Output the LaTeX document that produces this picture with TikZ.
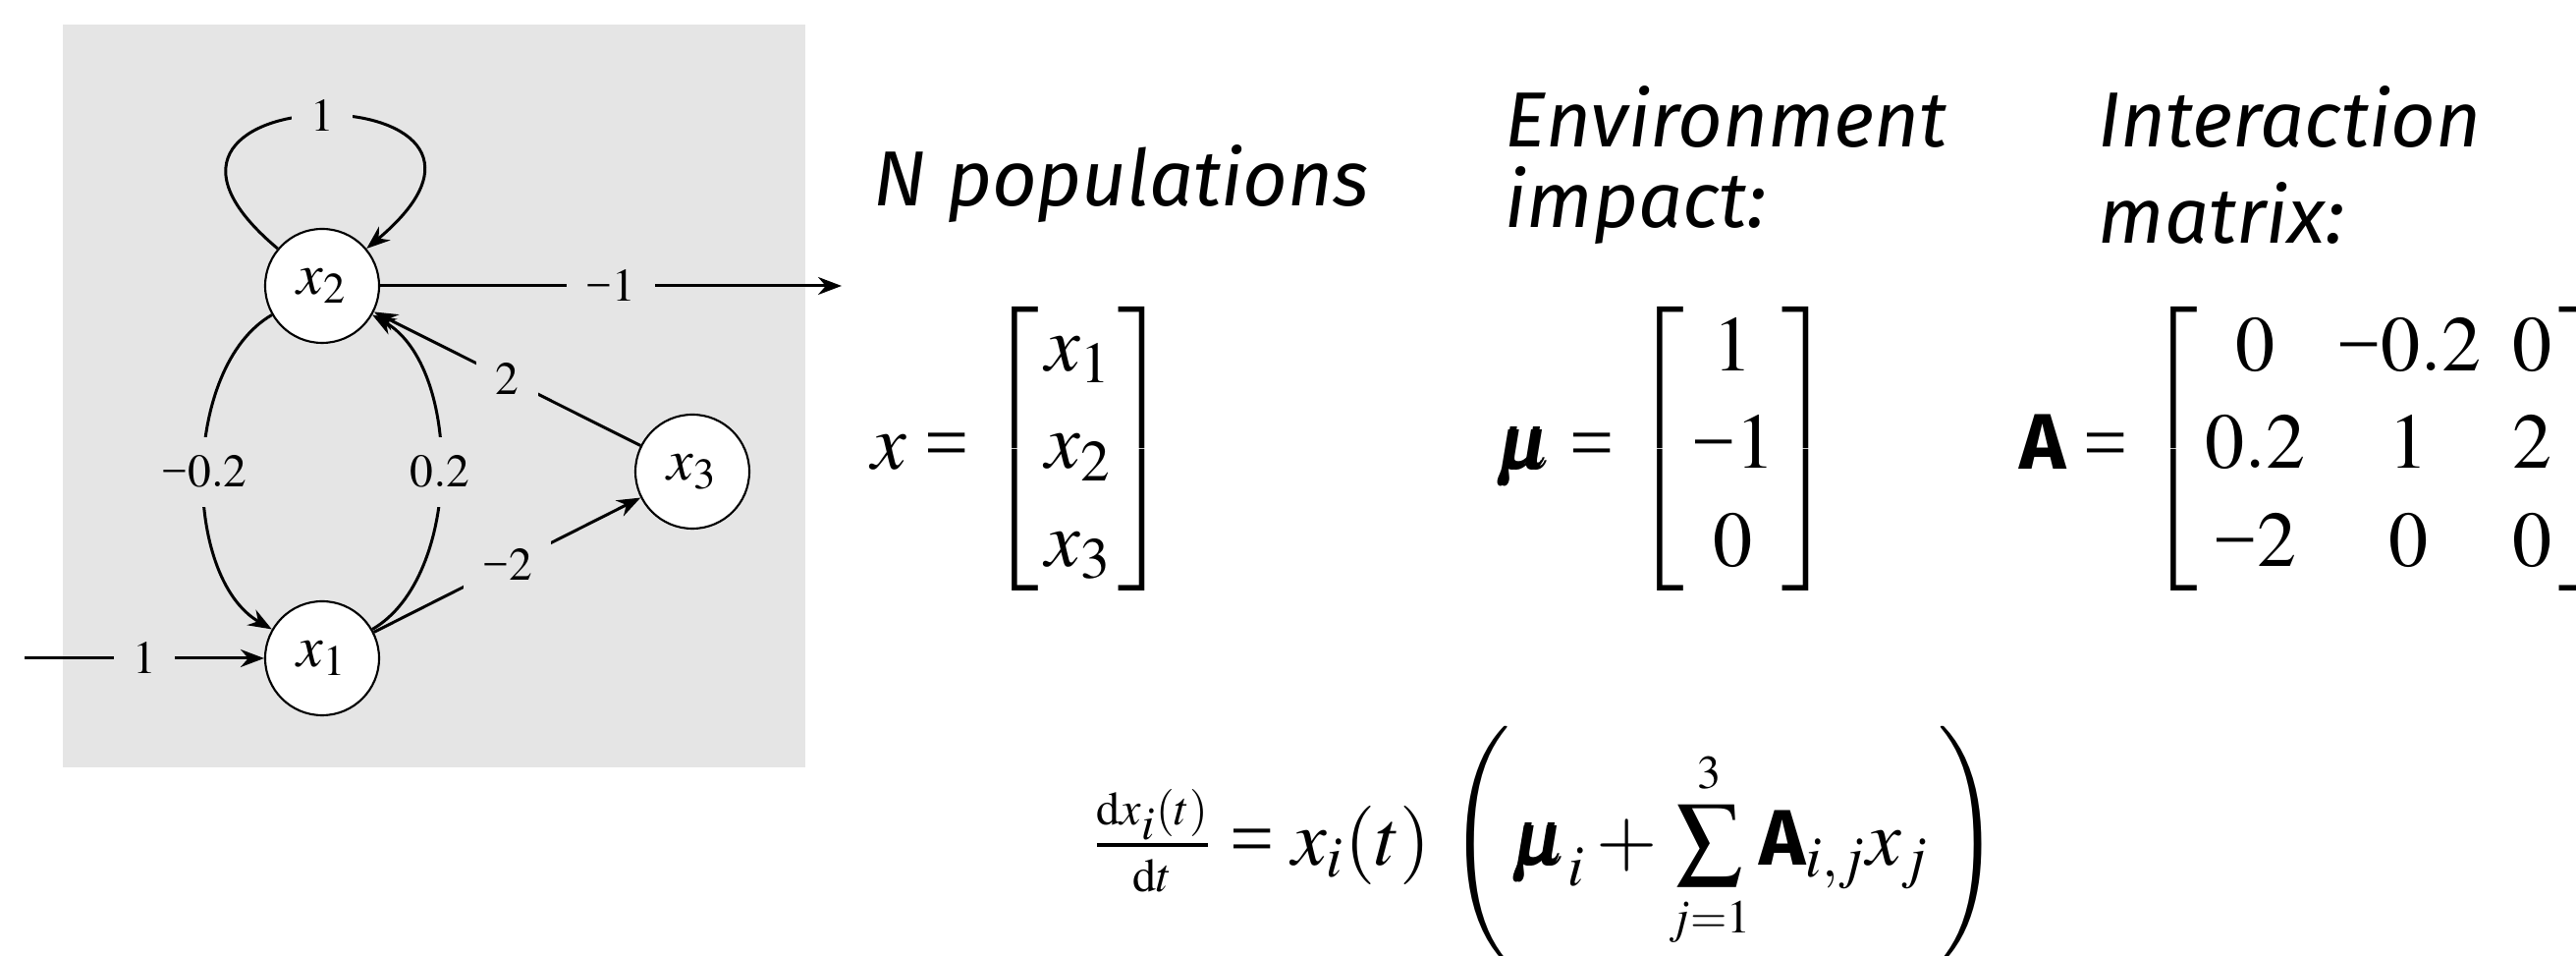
\documentclass[tikz,border=0pt]{standalone}
\usepackage{amsmath}
\usepackage{mathptmx}
\usepackage{bm}
\usepackage[no-math]{fontspec}
\setmainfont{Fira Sans}
\newfontfamily\timesfont{Liberation Serif}
\usetikzlibrary{
    arrows.meta,
    positioning
}

\newcommand{\Amat}{\text{\normalfont\bfseries A}}
\newcommand{\eqsign}{\mathrel{\text{\timesfont =}}}
\newcommand{\mneg}{\text{\timesfont −}}
\newcommand{\bigsum}{\mathop{\vcenter{\hbox{\scalebox{1.2}{$\sum$}}}}\limits}
\setlength{\arraycolsep}{4.5pt}

\begin{document}
\begin{tikzpicture}[
    >=Stealth,
    popnode/.style={circle, draw, line width=0.6pt, fill=white, minimum size=1.16cm, inner sep=0pt, font=\fontsize{17}{19}\selectfont},
    flow/.style={->, line width=0.85pt},
    wlabel/.style={fill=gray!20, inner sep=5.5pt, font=\fontsize{13.5}{16}\selectfont},
    heading/.style={font=\fontsize{22.6}{23.4}\selectfont\itshape, align=left, inner sep=0pt},
    mathbig/.style={font=\fontsize{22.8}{28.4}\selectfont, inner sep=0pt}
]

\useasboundingbox (0,0) rectangle (26.23,9.73);

% ==================== NETWORK OF POPULATIONS ====================
\fill[gray!20] (0.64,1.92) rectangle (8.20,9.48);

\node[popnode] (x2) at (3.28,6.82) {$x_2$};
\node[popnode] (x1) at (3.28,3.03) {$x_1$};
\node[popnode] (x3) at (7.05,4.93) {$x_3$};

\coordinate (inflow) at (0.25,3.03);
\coordinate (outflow) at (8.57,6.82);

\draw[flow] (inflow) -- node[wlabel] {$1$} (x1);
\draw[flow] (x2) -- node[wlabel] {$\mneg1$} (outflow);
\draw[flow] (x2) to[out=140, in=40, distance=2.8cm] node[wlabel] {$1$} (x2);
\draw[flow] (x2) to[bend right=60, looseness=0.85] node[wlabel] {$\mneg0.2$} (x1);
\draw[flow] (x1) to[bend right=60, looseness=0.85] node[wlabel] {$0.2$} (x2);
\draw[flow] (x3) -- node[wlabel] {$2$} (x2);
\draw[flow] (x1) -- node[wlabel] {$\mneg2$} (x3);

% ==================== HEADINGS ====================
% (base = last line of a two-line node)
\node[heading, anchor=base west] (npop) at (8.89,7.63) {N populations};
\node[heading, anchor=base west] (envhead) at (15.32,7.41) {Environment\\impact:};
\node[heading, anchor=base west, font=\fontsize{22.6}{27.9}\selectfont\itshape] (inthead) at (21.36,7.25) {Interaction\\matrix:};

% ==================== VECTORS AND MATRIX ====================
\node[mathbig, anchor=west] (xvec) at (8.87,5.16)
    {$x \eqsign \left[\begin{array}{@{\hspace{2pt}}c@{\hspace{2pt}}} x_1\\ x_2\\ x_3 \end{array}\right]$};
\node[mathbig, anchor=west] (muvec) at (15.22,5.16)
    {$\bm{\mu} \eqsign \left[\begin{array}{@{\hspace{2pt}}c@{\hspace{2pt}}} 1\\ \mneg1\\ 0 \end{array}\right]$};
\node[mathbig, anchor=west] (amat) at (20.56,5.16)
    {$\Amat \eqsign \left[\begin{array}{@{\hspace{2pt}}ccc@{\hspace{2pt}}} 0 & \mneg0.2 & 0\\ 0.2 & 1 & 2\\ \mneg2 & 0 & 0 \end{array}\right]$};

% ==================== DYNAMICS ====================
\node[mathbig, anchor=west] (lveq) at (11.12,1.13)
    {$\delimitershortfall=-2pt
      \frac{\scriptscriptstyle\mathrm{d}x_i(t)}{\scriptscriptstyle\mathrm{d}t} \eqsign x_i(t) \, \left( \bm{\mu}_i + \bigsum_{\scriptscriptstyle j=1}^{\scriptscriptstyle 3} \Amat_{i,j} x_j \, \right)$};

\end{tikzpicture}
\end{document}
